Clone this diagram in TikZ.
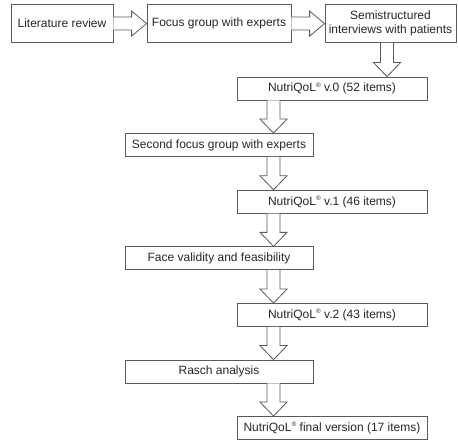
\documentclass[tikz,border=0pt]{standalone}
\usepackage{fontspec}
\setmainfont{Liberation Sans}
\usetikzlibrary{calc}
\definecolor{linec}{HTML}{5A5A5A}
\definecolor{textc}{HTML}{262626}
\newcommand\regmark{\raisebox{0.75ex}{\fontsize{6.5}{6.5}\selectfont ®}}
\newcommand\hblock[2]{\draw[blk] let \p1=(#1.east), \p2=(#2.west) in
  (\x1,\y1+6.5pt) -- (\x2-15pt,\y1+6.5pt) -- (\x2-15pt,\y1+12.5pt) -- (\x2,\y1)
  -- (\x2-15pt,\y1-12.5pt) -- (\x2-15pt,\y1-6.5pt) -- (\x1,\y1-6.5pt);}
\newcommand\vblock[3]{\draw[blk] let \p1=(#1.south), \p2=(#2.north) in
  (#3pt-6.5pt,\y1) -- (#3pt-6.5pt,\y2+14pt) -- (#3pt-13.5pt,\y2+14pt) -- (#3pt,\y2)
  -- (#3pt+13.5pt,\y2+14pt) -- (#3pt+6.5pt,\y2+14pt) -- (#3pt+6.5pt,\y1);}
\begin{document}
\begin{tikzpicture}[x=1pt,y=-1pt,
  box/.style={draw=linec, line width=0.8pt, text=textc, inner sep=0pt,
    minimum height=23pt, font=\fontsize{12}{14.5}\selectfont},
  topbox/.style={box, minimum height=38pt},
  rbox/.style={box, minimum width=190pt},
  lbox/.style={box, minimum width=188pt},
  blk/.style={draw=linec, line width=0.8pt, fill=white, line join=miter}]
\useasboundingbox (0,0) rectangle (458,443);
\node[topbox, minimum width=102pt] (lit) at (62,23.6) {Literature review};
\node[topbox, minimum width=144pt] (foc) at (219,23.6) {Focus group with experts};
\node[topbox, minimum width=131pt, align=center] (semi) at (390.5,23.6) {Semistructured\\interviews with patients};
\node[rbox] (v0) at (332,88.5) {NutriQoL\regmark{} v.0 (52 items)};
\node[lbox] (sec) at (219,145) {Second focus group with experts};
\node[rbox] (v1) at (332,201.7) {NutriQoL\regmark{} v.1 (46 items)};
\node[lbox] (face) at (219,258.3) {Face validity and feasibility};
\node[rbox] (v2) at (332,315) {NutriQoL\regmark{} v.2 (43 items)};
\node[lbox] (rasch) at (219,371.5) {Rasch analysis};
\node[rbox] (fin) at (332,428) {NutriQoL\regmark{} final version (17 items)};
\hblock{lit}{foc}
\hblock{foc}{semi}
\vblock{semi}{v0}{387}
\vblock{v0}{sec}{273.5}
\vblock{sec}{v1}{273.5}
\vblock{v1}{face}{273.5}
\vblock{face}{v2}{273.5}
\vblock{v2}{rasch}{273.5}
\vblock{rasch}{fin}{273.5}
\end{tikzpicture}
\end{document}
